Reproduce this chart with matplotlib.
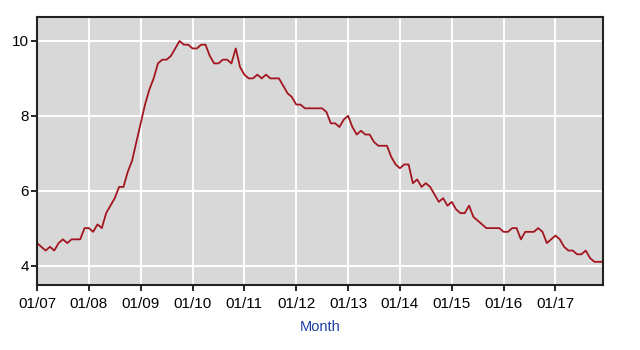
import matplotlib
matplotlib.use("Agg")
import matplotlib.pyplot as plt

plt.rcParams['font.family'] = ['Liberation Sans', 'DejaVu Sans']

# monthly unemployment rate, Jan 2007 .. Dec 2017
rate_2007 = [4.6, 4.5, 4.4, 4.5, 4.4, 4.6, 4.7, 4.6, 4.7, 4.7, 4.7, 5.0]
rate_2008 = [5.0, 4.9, 5.1, 5.0, 5.4, 5.6, 5.8, 6.1, 6.1, 6.5, 6.8, 7.3]
rate_2009 = [7.8, 8.3, 8.7, 9.0, 9.4, 9.5, 9.5, 9.6, 9.8, 10.0, 9.9, 9.9]
rate_2010 = [9.8, 9.8, 9.9, 9.9, 9.6, 9.4, 9.4, 9.5, 9.5, 9.4, 9.8, 9.3]
rate_2011 = [9.1, 9.0, 9.0, 9.1, 9.0, 9.1, 9.0, 9.0, 9.0, 8.8, 8.6, 8.5]
rate_2012 = [8.3, 8.3, 8.2, 8.2, 8.2, 8.2, 8.2, 8.1, 7.8, 7.8, 7.7, 7.9]
rate_2013 = [8.0, 7.7, 7.5, 7.6, 7.5, 7.5, 7.3, 7.2, 7.2, 7.2, 6.9, 6.7]
rate_2014 = [6.6, 6.7, 6.7, 6.2, 6.3, 6.1, 6.2, 6.1, 5.9, 5.7, 5.8, 5.6]
rate_2015 = [5.7, 5.5, 5.4, 5.4, 5.6, 5.3, 5.2, 5.1, 5.0, 5.0, 5.0, 5.0]
rate_2016 = [4.9, 4.9, 5.0, 5.0, 4.7, 4.9, 4.9, 4.9, 5.0, 4.9, 4.6, 4.7]
rate_2017 = [4.8, 4.7, 4.5, 4.4, 4.4, 4.3, 4.3, 4.4, 4.2, 4.1, 4.1, 4.1]

rates = (rate_2007 + rate_2008 + rate_2009 + rate_2010 + rate_2011 + rate_2012
         + rate_2013 + rate_2014 + rate_2015 + rate_2016 + rate_2017)
months = list(range(len(rates)))
tick_labels = ['01/07', '01/08', '01/09', '01/10', '01/11', '01/12',
               '01/13', '01/14', '01/15', '01/16', '01/17']

fig = plt.figure(figsize=(6.4, 3.5), dpi=100)
ax = fig.add_axes([37/640, 1 - 285/350, 566/640, 268/350])
ax.set_facecolor('#d8d8d8')
ax.plot(months, rates, color='#a3161f', lw=1.3)

ax.set_xlim(0, len(rates) - 1)
ax.set_ylim(3.48, 10.64)
ax.set_xticks(range(0, 121, 12))
ax.set_xticklabels(tick_labels)
ax.set_yticks([4, 6, 8, 10])
ax.grid(True, color='white', lw=1.4)
ax.set_axisbelow(True)
for s in ax.spines.values():
    s.set_color('#222222')
    s.set_linewidth(1.5)
ax.tick_params(direction='out', length=4, width=1.2, labelsize=11, colors='black')
ax.tick_params(axis='x', pad=5)
ax.tick_params(axis='y', pad=2)
ax.set_xlabel('Month', color='#1f3fa6', fontsize=10.5, labelpad=6)

fig.savefig('out.png', dpi=100)
